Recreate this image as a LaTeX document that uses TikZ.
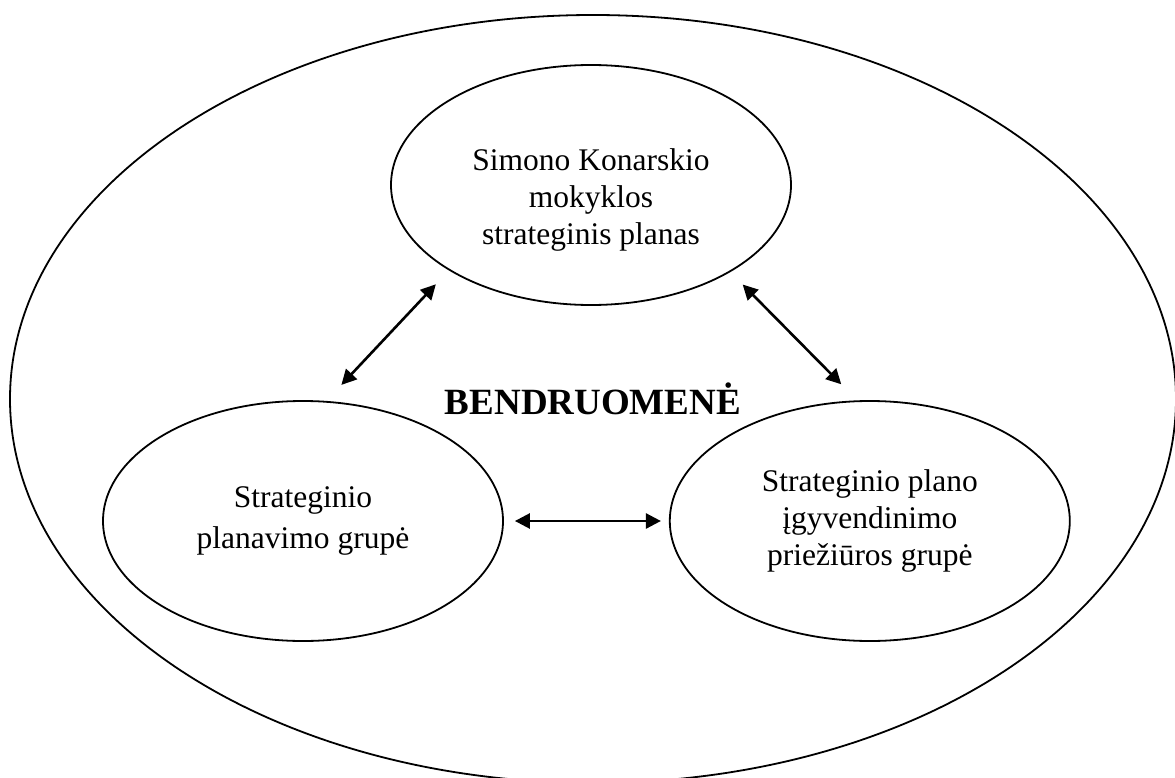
\documentclass[tikz,border=0pt]{standalone}
\usepackage{fontspec}
\setmainfont{Liberation Serif}
\usetikzlibrary{positioning, arrows.meta, shapes.geometric}
\tikzset{
    bubble/.style={draw, ellipse, line width=1.8pt, inner sep=0pt, minimum width=400pt, minimum height=240pt, align=center},
    bubbletext/.style={align=center, font=\fontsize{31.5}{37}\selectfont},
    link/.style={{Triangle[length=15pt,width=15pt]}-{Triangle[length=15pt,width=15pt]}, line width=2.6pt},
}

\begin{document}
\begin{tikzpicture}[x=1pt, y=-1pt]
    \tikzset{
      every node/.append style={font=\fontsize{31.5}{37}\selectfont}
    }
    \useasboundingbox (0,0) rectangle (1175,778);

    \node[draw, ellipse, line width=1.8pt, inner sep=0pt, minimum width=1166pt, minimum height=768pt,
          font=\fontsize{37}{44}\selectfont\bfseries] (comm) at (593,399) {BENDRUOMENĖ};

    \node[bubble] (plan) at (591,185) {};
    \node[bubbletext] (plantext) at ([yshift=-15pt]plan.center) {Simono Konarskio\\mokyklos\\strateginis planas};

    \node[bubble, font=\fontsize{31.5}{41}\selectfont] (grp) at (303,521) {Strateginio\\planavimo grupė};
    \node[bubble, right=165pt of grp] (sup) {Strateginio plano\\įgyvendinimo\\priežiūros grupė};

    \draw[link, shorten <=22pt, shorten >=19pt] (grp.79.8) -- (plan.211.2);
    \draw[link, shorten <=17.5pt, shorten >=22.6pt] (plan.328) -- (sup.96.3);
    \draw[link, shorten <=11pt, shorten >=8pt] (grp.east) -- (sup.west);
\end{tikzpicture}
\end{document}
